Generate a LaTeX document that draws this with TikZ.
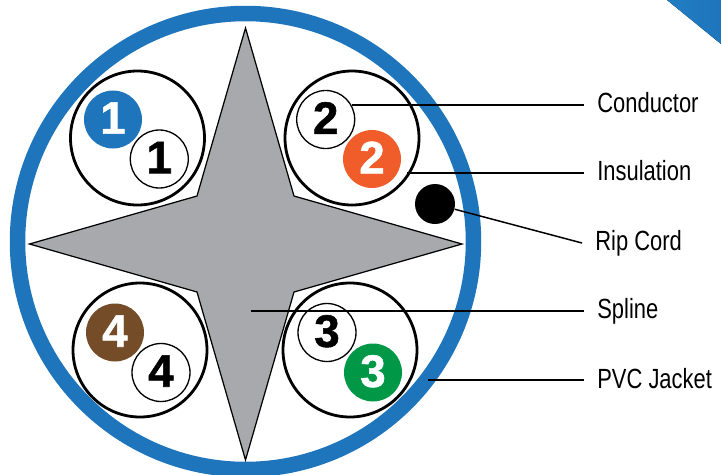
\documentclass[tikz,border=0pt]{standalone}
\usepackage{fontspec}
\setmainfont{Liberation Sans}
\newfontfamily\labelfont[FakeStretch=0.79]{Liberation Sans}
\newfontfamily\digitfont[FakeBold=1.2]{Liberation Sans Bold}
\usetikzlibrary{positioning,shadings}
\definecolor{jacketblue}{HTML}{1E75BC}
\definecolor{pairorange}{HTML}{F15D2A}
\definecolor{pairbrown}{HTML}{754C28}
\definecolor{pairgreen}{HTML}{009846}
\definecolor{splinegray}{HTML}{A7A9AC}
\definecolor{cornerlight}{HTML}{2A9FE0}
\tikzset{pair/.style={draw,circle,line width=1.6pt,minimum size=134*0.02cm,inner sep=0pt},
  wire/.style={circle,minimum size=58*0.02cm,inner sep=0pt,text depth=1.7pt,font=\fontsize{26}{26}\digitfont},
  plainwire/.style={wire,draw,line width=0.75pt,fill=white,text=black},
  colorwire/.style={wire,text=white},
  tag/.style={anchor=west,inner xsep=13*0.02cm,inner ysep=0pt,text height=10.4pt,text depth=1.3pt,font=\fontsize{15.8}{15.8}\labelfont},
  leader/.style={line width=0.85pt}}
\begin{document}
\begin{tikzpicture}[x=0.02cm,y=-0.02cm]
\useasboundingbox (0,0) rectangle (721,474);
\fill[left color=jacketblue!80!cornerlight,middle color=cornerlight,right color=jacketblue] (667,0) -- (721,0) -- (721,44) -- cycle;
\begin{scope}
\clip (0,0) rectangle (721,474);
\draw[jacketblue,line width=8.82pt] (245.5,241.5) circle (228);
\end{scope}
\foreach \nm/\x/\y in {one/137.5/138,two/352/138,four/140/350,three/350/350}
  \node[pair] (\nm) at (\x,\y) {};
\draw[fill=splinegray,line width=0.7pt] (245.5,28) -- (294,196) -- (462,244) -- (294,292) -- (245.5,460) -- (197,292) -- (29.5,244) -- (197,196) -- cycle;
\foreach \nm/\x/\y/\t in {oneplain/159.3/159/1,twoplain/325.7/119.5/2,fourplain/161/372.5/4,threeplain/327/332.5/3}
  \node[plainwire] (\nm) at (\x,\y) {\t};
\foreach \nm/\x/\y/\t/\c in {onecolor/113/119.5/1/jacketblue,twocolor/372/159/2/pairorange,fourcolor/115/332.5/4/pairbrown,threecolor/373/372.5/3/pairgreen}
  \node[colorwire,fill=\c] (\nm) at (\x,\y) {\t};
\node[circle,fill=black,minimum size=40*0.02cm,inner sep=0pt] (ripcord) at (435,204) {};
\coordinate (condend) at (352,105);
\coordinate (insuend) at (407,173);
\coordinate (splineend) at (251,311);
\coordinate (jacketend) at (428,380);
\node[tag] (conductor) at (584,105) {Conductor};
\node[tag] (insulation) at (584,173) {Insulation};
\node[tag] (riplabel) at (582,243) {Rip Cord};
\node[tag] (spline) at (584,311) {Spline};
\node[tag] (jacket) at (584,380) {PVC Jacket};
\draw[leader] (condend) -- (conductor.west);
\draw[leader] (insuend) -- (insulation.west);
\draw[leader] (ripcord) -- (riplabel.west);
\draw[leader] (splineend) -- (spline.west);
\draw[leader] (jacketend) -- (jacket.west);
\end{tikzpicture}
\end{document}
